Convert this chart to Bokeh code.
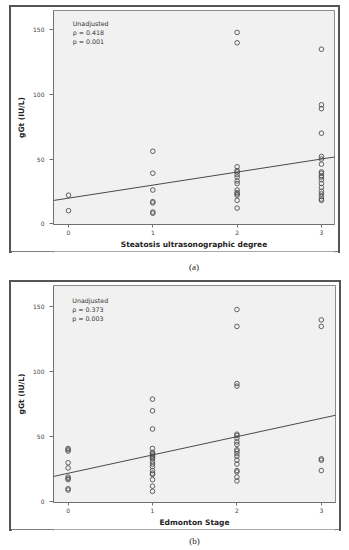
from bokeh.plotting import figure
from bokeh.layouts import column, row
from bokeh.models import Range1d, Label, Slope, FixedTicker, Spacer
from bokeh.embed import file_html
from bokeh.resources import INLINE

# ---------------- data ----------------
x_ticks = [0, 1, 2, 3]
y_ticks = [0, 50, 100, 150]

# panel (a): Steatosis ultrasonographic degree
a_cat0 = [22, 10]
a_cat1 = [56, 39, 26, 17, 16, 9, 8]
a_cat2 = [148, 140, 44, 41, 40, 38, 36, 33, 31, 26, 24, 23, 22, 18, 12]
a_cat3 = [135, 92, 89, 70, 52, 50, 46, 40, 39, 37, 36, 34, 31, 28, 25, 23, 21, 19, 18]
a_fit = (19.7, 10.1)  # intercept, slope
a_stats = ["Unadjusted", "\u03c1 = 0.418", "p = 0.001"]
a_xlabel = "Steatosis ultrasonographic degree"

# panel (b): Edmonton Stage
b_cat0 = [41, 40, 39, 30, 26, 19, 18, 17, 10, 9]
b_cat1 = [79, 70, 56, 41, 38, 37, 36, 35, 34, 33, 31, 29, 27, 24, 22, 21, 17, 12, 8]
b_cat2 = [148, 135, 91, 89, 52, 51, 49, 46, 44, 40, 39, 37, 35, 32, 29, 24, 23, 19, 16]
b_cat3 = [140, 135, 33, 32, 24]
b_fit = (21.9, 14.1)
b_stats = ["Unadjusted", "\u03c1 = 0.373", "p = 0.003"]
b_xlabel = "Edmonton Stage"

y_label = "gGt (IU/L)"

DARK = "#4a4a4a"
BOX = {"outline": "2px solid #555555"}


def make_panel(cats, fit, stats, xlabel, width, height, xr, yr,
               mb_right, stat_y):
    p = figure(width=width, height=height, output_backend="svg",
               toolbar_location=None,
               x_range=Range1d(*xr), y_range=Range1d(*yr),
               min_border_left=42, min_border_right=mb_right,
               min_border_top=3, min_border_bottom=26,
               styles=BOX)
    p.background_fill_color = "#f1f1f1"
    p.border_fill_color = "white"
    p.outline_line_color = "#8c8c8c"
    p.outline_line_width = 1
    p.xgrid.visible = False
    p.ygrid.visible = False

    xs, ys = [], []
    for c, vals in zip(x_ticks, cats):
        xs += [c] * len(vals)
        ys += vals
    p.scatter(xs, ys, marker="circle", size=4.6, fill_color=None,
              line_color="#505050", line_width=0.9)

    p.add_layout(Slope(gradient=fit[1], y_intercept=fit[0],
                       line_color=DARK, line_width=1))

    for ax in (p.xaxis[0], p.yaxis[0]):
        ax.axis_line_color = "#707070"
        ax.major_tick_line_color = "#707070"
        ax.minor_tick_line_color = None
        ax.major_tick_in = 0
        ax.major_label_text_font = "DejaVu Sans"
        ax.major_label_text_font_size = "6px"
        ax.major_label_text_color = "#444444"
        ax.axis_label_text_font = "DejaVu Sans"
        ax.axis_label_text_font_style = "bold"
        ax.axis_label_text_font_size = "7.5px"
        ax.axis_label_text_color = "#222222"

    p.xaxis.ticker = FixedTicker(ticks=x_ticks)
    p.yaxis.ticker = FixedTicker(ticks=y_ticks)
    p.xaxis.major_tick_out = 3
    p.xaxis.major_label_standoff = 2
    p.xaxis.axis_label_standoff = 2
    p.yaxis.major_tick_out = 4
    p.yaxis.major_label_standoff = 5
    p.yaxis.axis_label_standoff = 4
    p.xaxis.axis_label = xlabel
    p.yaxis.axis_label = y_label

    for i, t in enumerate(stats):
        p.add_layout(Label(x=0.05, y=stat_y[i], text=t, text_font="DejaVu Sans",
                           text_font_size="6.3px", text_color="#333333",
                           text_baseline="middle", text_align="left"))
    return p


def make_caption(text, width, height, ypos):
    c = figure(width=width, height=height, output_backend="svg",
               toolbar_location=None, x_range=Range1d(0, 1), y_range=Range1d(0, 1),
               min_border=0, x_axis_type=None, y_axis_type=None)
    c.outline_line_color = None
    c.xgrid.visible = False
    c.ygrid.visible = False
    c.add_layout(Label(x=0.5, y=ypos, text=text, text_font="Liberation Serif",
                       text_font_size="9px", text_color="#222222",
                       text_align="center", text_baseline="middle"))
    return c


pa = make_panel([a_cat0, a_cat1, a_cat2, a_cat3], a_fit, a_stats, a_xlabel,
                width=327, height=244, xr=(-0.178, 3.155), yr=(-0.7, 165.0),
                mb_right=4, stat_y=[154.7, 147.7, 140.7])
ca = make_caption("(a)", 327, 31, 0.516)

pb = make_panel([b_cat0, b_cat1, b_cat2, b_cat3], b_fit, b_stats, b_xlabel,
                width=328, height=247, xr=(-0.173, 3.168), yr=(-0.6, 166.5),
                mb_right=2, stat_y=[155.1, 148.2, 141.3])
cb = make_caption("(b)", 328, 21, 0.476)

layout = row(Spacer(width=11),
             column(Spacer(height=7), pa, ca, pb, cb, spacing=0),
             spacing=0)
open("out.html", "w").write(file_html(layout, INLINE))
